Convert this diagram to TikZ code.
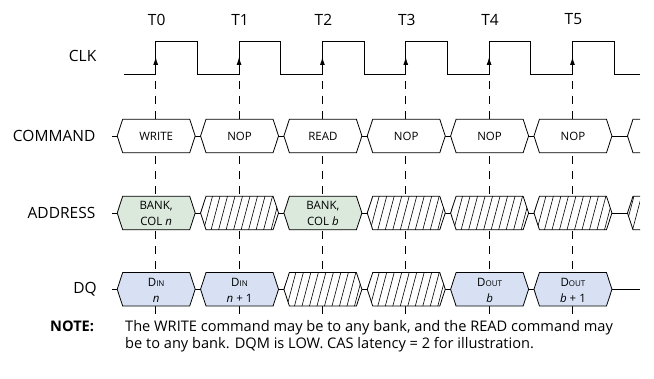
\documentclass[tikz,border=0pt]{standalone}
\usepackage{fontspec}
\setmainfont{Open Sans}
\usetikzlibrary{arrows.meta}
\definecolor{addrfill}{RGB}{219,233,221}
\definecolor{dqfill}{RGB}{215,225,243}
\newcommand\hexat[2]{(#1-39,#2) -- (#1-33.5,#2-16.8) -- (#1+33.5,#2-16.8) -- (#1+39,#2) -- (#1+33.5,#2+16.8) -- (#1-33.5,#2+16.8) -- cycle}
\newcommand\parthexat[1]{(640,#1-16.8) -- (633,#1-16.8) -- (627.5,#1) -- (633,#1+16.8) -- (640,#1+16.8)}
\newcommand\hatchbox[2]{%
  \fill[white] \hexat{#1}{#2};
  \begin{scope}
    \clip \hexat{#1}{#2};
    \foreach \h in {-54,-46.5,...,54} \draw[hatchline] (#1+\h-4.5,#2+17) -- (#1+\h+4.5,#2-17);
  \end{scope}
  \draw[boxline] \hexat{#1}{#2};}
\newcommand\dinlbl{D{\fontsize{8}{8}\selectfont IN}}
\newcommand\doutlbl{D{\fontsize{8}{8}\selectfont OUT}}
\begin{document}
\begin{tikzpicture}[x=1pt,y=-1pt,
  boxline/.style={draw=black, line width=0.8pt},
  sig/.style={line width=0.9pt, line join=miter},
  hatchline/.style={line width=0.6pt},
  guide/.style={line width=0.8pt, dash pattern=on 8pt off 7pt, dash phase=8pt},
  lbl/.style={font=\fontsize{15.5}{18}\selectfont, inner sep=0pt, anchor=east},
  tlbl/.style={font=\fontsize{15.5}{18}\selectfont, inner sep=0pt},
  btxt/.style={font=\fontsize{11.5}{16}\selectfont, inner sep=0pt, align=center},
  notefont/.style={font=\fontsize{14.6}{17}\selectfont, inner sep=0pt, anchor=base west},
  edgearrow/.style={-{Latex[length=8pt,width=5pt]}, line width=0.9pt}]
\useasboundingbox (0,0) rectangle (654,379);

% guide lines
\foreach \k in {0,...,5} {
  \pgfmathsetmacro\ex{155.7+83.35*\k}
  \coordinate (g\k a) at (\ex,74);
  \coordinate (g\k b) at (\ex,316);
  \draw[guide] (g\k a) -- (g\k b);
}

% row base lines
\coordinate (cmdL) at (112,136); \coordinate (cmdR) at (627.5,136);
\coordinate (adrL) at (112,213); \coordinate (adrR) at (627.5,213);
\coordinate (dqL) at (112,289.3); \coordinate (dqR) at (640,289.3);
\draw[boxline] (cmdL) -- (cmdR);
\draw[boxline] (adrL) -- (adrR);
\draw[boxline] (dqL) -- (dqR);

% COMMAND row
\foreach \k/\t in {0/WRITE,1/NOP,2/READ,3/NOP,4/NOP,5/NOP} {
  \pgfmathsetmacro\cx{156.2+83.35*\k}
  \draw[boxline, fill=white] \hexat{\cx}{136};
  \node[btxt] (cmd\k) at (\cx,136) {\t};
}
\draw[boxline, fill=white] \parthexat{136};

% ADDRESS row
\pgfmathsetmacro\cx{156.2}
\draw[boxline, fill=addrfill] \hexat{\cx}{213};
\node[btxt] (adr0) at (\cx,213) {BANK,\\COL \textit{n}};
\pgfmathsetmacro\cx{156.2+83.35*2}
\draw[boxline, fill=addrfill] \hexat{\cx}{213};
\node[btxt] (adr2) at (\cx,213) {BANK,\\COL \textit{b}};
\foreach \k in {1,3,4,5} {
  \pgfmathsetmacro\cx{156.2+83.35*\k}
  \hatchbox{\cx}{213}
}
\fill[white] \parthexat{213} -- cycle;
\begin{scope}
  \clip \parthexat{213} -- cycle;
  \foreach \h in {622,629.5,637,644.5} \draw[hatchline] (\h-4.5,230) -- (\h+4.5,196);
\end{scope}
\draw[boxline] \parthexat{213};

% DQ row
\pgfmathsetmacro\cx{156.2}
\draw[boxline, fill=dqfill] \hexat{\cx}{289.3};
\node[btxt] (dq0) at (\cx,290) {\dinlbl\\\textit{n}};
\pgfmathsetmacro\cx{156.2+83.35}
\draw[boxline, fill=dqfill] \hexat{\cx}{289.3};
\node[btxt] (dq1) at (\cx,290) {\dinlbl\\\textit{n} + 1};
\pgfmathsetmacro\cx{156.2+83.35*4}
\draw[boxline, fill=dqfill] \hexat{\cx}{289.3};
\node[btxt] (dq4) at (\cx,290) {\doutlbl\\\textit{b}};
\pgfmathsetmacro\cx{156.2+83.35*5}
\draw[boxline, fill=dqfill] \hexat{\cx}{289.3};
\node[btxt] (dq5) at (\cx,290) {\doutlbl\\\textit{b} + 1};
\foreach \k in {2,3} {
  \pgfmathsetmacro\cx{156.2+83.35*\k}
  \hatchbox{\cx}{289.3}
}

% clock
\draw[sig] (124,74) -- (155.7,74) -- (155.7,41.7) -- (197.4,41.7) -- (197.4,74)
  -- (239.05,74) -- (239.05,41.7) -- (280.7,41.7) -- (280.7,74)
  -- (322.4,74) -- (322.4,41.7) -- (364.1,41.7) -- (364.1,74)
  -- (405.75,74) -- (405.75,41.7) -- (447.4,41.7) -- (447.4,74)
  -- (489.1,74) -- (489.1,41.7) -- (530.8,41.7) -- (530.8,74)
  -- (572.45,74) -- (572.45,41.7) -- (614.1,41.7) -- (614.1,74) -- (640,74);
\foreach \k in {0,...,5} {
  \pgfmathsetmacro\ex{155.7+83.35*\k}
  \coordinate (ea\k) at (\ex,74);
  \coordinate (eb\k) at (\ex,57);
  \draw[edgearrow] (ea\k) -- (eb\k);
  \node[tlbl] (t\k) at (\ex+1,19.5) {T\k};
}

% labels
\node[lbl] (clk) at (96.5,56) {CLK};
\node[lbl] (command) at (95.5,136) {COMMAND};
\node[lbl] (address) at (95.5,213) {ADDRESS};
\node[lbl] (dq) at (97,289.3) {DQ};

% note
\node[notefont, font=\fontsize{14.6}{17}\selectfont\bfseries] (note) at (50,332) {NOTE:};
\node[notefont] (note1) at (125,332) {The WRITE command may be to any bank, and the READ command may};
\node[notefont] (note2) at (125,349) {be to any bank. DQM is LOW. CAS latency = 2 for illustration.};
\end{tikzpicture}
\end{document}
